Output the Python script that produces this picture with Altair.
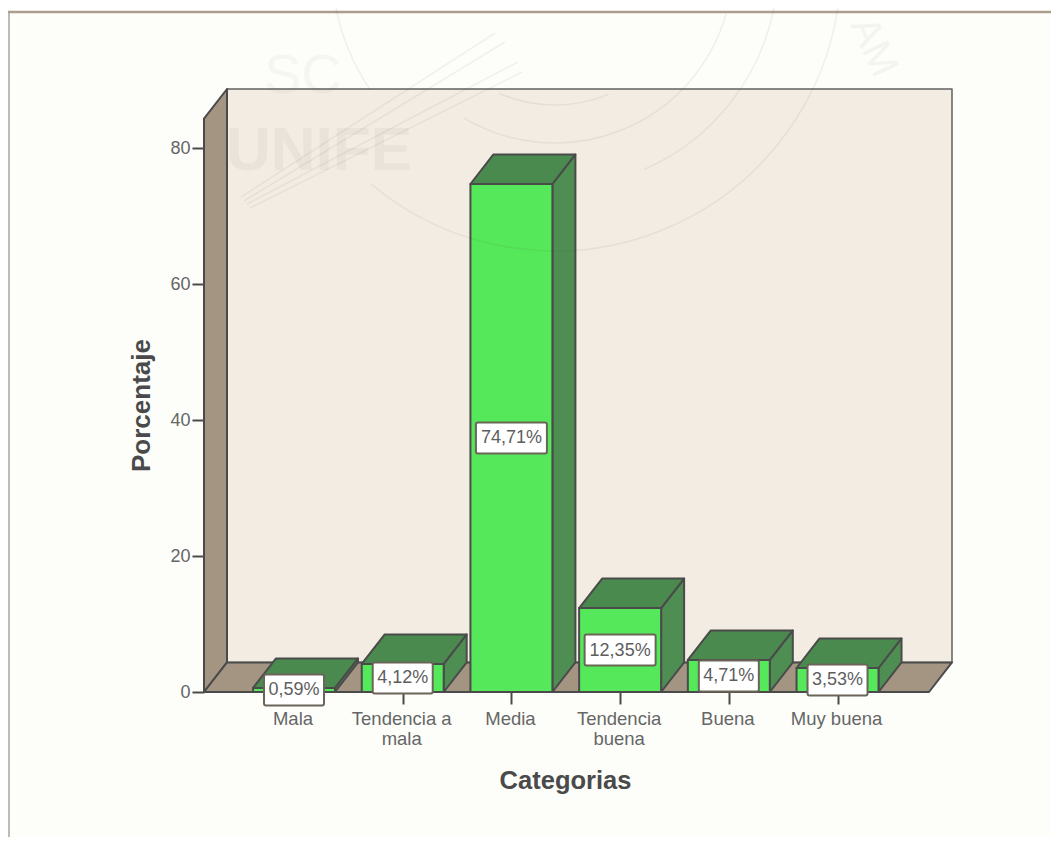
import json
import altair as alt
import pandas as pd

categories = ["Mala", "Tendencia a mala", "Media", "Tendencia buena", "Buena", "Muy buena"]
axis_lines = [["Mala"], ["Tendencia a", "mala"], ["Media"], ["Tendencia", "buena"], ["Buena"], ["Muy buena"]]
percentages = [0.59, 4.12, 74.71, 12.35, 4.71, 3.53]
labels = ["0,59%", "4,12%", "74,71%", "12,35%", "4,71%", "3,53%"]

# chart frame (category units / percentage units)
X_MIN, X_MAX = -0.828, 6.053
Y_MAX = 88.68
DX, DY = 0.2116, 4.34
HALF = 0.377

LINE = "#4A4A4A"
FONT = "Liberation Sans"


def para(pid, xl, xr, yv):
    """Horizontal parallelogram (top or floor) seen in oblique projection."""
    return [
        dict(id=pid, x=xl, y=yv, y2=yv),
        dict(id=pid, x=xl + DX, y=yv, y2=yv + DY),
        dict(id=pid, x=xr, y=yv, y2=yv + DY),
        dict(id=pid, x=xr + DX, y=yv + DY, y2=yv + DY),
    ]


wall = pd.DataFrame([
    dict(id="w", x=X_MIN + DX, y=DY, y2=Y_MAX),
    dict(id="w", x=X_MAX, y=DY, y2=Y_MAX),
])
side_wall = pd.DataFrame([
    dict(id="s", x=X_MIN, y=0, y2=Y_MAX - DY),
    dict(id="s", x=X_MIN + DX, y=DY, y2=Y_MAX),
])
floor = pd.DataFrame(para("f", X_MIN, X_MAX - DX, 0))

sides, tops, fronts, boxes = [], [], [], []
for i, p in enumerate(percentages):
    xl, xr = i - HALF, i + HALF
    sides += [dict(id=i, x=xr, y=0, y2=p), dict(id=i, x=xr + DX, y=DY, y2=p + DY)]
    tops += para(i, xl, xr, p)
    fronts += [dict(id=i, x=xl, y=0, y2=p), dict(id=i, x=xr, y=0, y2=p)]
    half_w = (35.5 if len(labels[i]) > 5 else 30) / 108.7
    boxes.append(dict(x=i - half_w, x2=i + half_w, xc=i, y=p / 2 - 2.28, y2=p / 2 + 2.28, yc=p / 2, t=labels[i]))

sides, tops, fronts, boxes = map(pd.DataFrame, (sides, tops, fronts, boxes))

x_scale = alt.Scale(domain=[X_MIN, X_MAX], nice=False, zero=False)
y_scale = alt.Scale(domain=[0, Y_MAX], nice=False, zero=False)

x_axis = alt.Axis(
    values=list(range(6)),
    labelExpr=f"{json.dumps(axis_lines)}[datum.value]",
    grid=False, domain=False, tickSize=12, tickWidth=2, tickColor=LINE,
    labelFont=FONT, labelFontSize=18.5, labelColor="#666666", labelPadding=5,
    labelLineHeight=20, labelOverlap=False, labelBound=False, labelFlush=False,
    labelOffset=-1.5,
    title="Categorias", titleFont=FONT, titleFontSize=25.5, titleFontWeight="bold",
    titleColor="#4A4A4A", titleX=361, titleY=88, titleBaseline="middle", titleAnchor="middle",
)
y_axis = alt.Axis(
    values=[0, 20, 40, 60, 80],
    grid=False, domain=False, tickSize=12, tickWidth=2, tickColor=LINE,
    labelFont=FONT, labelFontSize=18, labelColor="#666666", labelPadding=2,
    title="Porcentaje", titleFont=FONT, titleFontSize=26, titleFontWeight="bold",
    titleColor="#4A4A4A", titleX=-63, titleY=316, titleBaseline="middle", titleAnchor="middle",
)
X = alt.X("x:Q", scale=x_scale, axis=x_axis)
Y = alt.Y("y:Q", scale=y_scale, axis=y_axis)


def faces(df, fill, width=2.0, color=LINE):
    return alt.Chart(df).mark_area(
        fill=fill, stroke=color, strokeWidth=width, strokeJoin="round", opacity=1
    ).encode(x=X, y=Y, y2=alt.Y2("y2:Q"), detail="id:N")


box_layer = alt.Chart(boxes).mark_rect(
    fill="#FFFFFF", stroke="#6B6458", strokeWidth=2, cornerRadius=2
).encode(x=X, x2=alt.X2("x2:Q"), y=Y, y2=alt.Y2("y2:Q"))
text_layer = alt.Chart(boxes).mark_text(
    font=FONT, fontSize=18, color="#5E5E5E", align="center", baseline="middle", dy=0.5
).encode(x=alt.X("xc:Q", scale=x_scale, axis=x_axis), y=alt.Y("yc:Q", scale=y_scale, axis=y_axis), text="t:N")

one = pd.DataFrame({"k": [0]})


def frame_rule(color, width, **kw):
    return alt.Chart(one).mark_rule(color=color, strokeWidth=width).encode(
        **{k: alt.value(v) for k, v in kw.items()}
    )


frame = [
    frame_rule("#FFFFFF", 4, x=-196, x2=847, y=-79),
    frame_rule("#AC9D8D", 2.5, x=-196, x2=847, y=-77),
    frame_rule("#A4A4A0", 1.5, x=-195, y=-76, y2=748),
]

WM = "#5A4A30"


def wm_arc(r, t0, t1):
    return alt.Chart(one).mark_arc(
        radius=r, radius2=r, theta=t0, theta2=t1, stroke=WM, strokeWidth=1.5,
        strokeOpacity=0.08, fillOpacity=0,
    ).encode(x=alt.value(351), y=alt.value(-124))


def wm_line(x0, y0, x1, y1):
    return alt.Chart(one).mark_rule(color=WM, strokeWidth=1.5, opacity=0.07).encode(
        x=alt.value(x0 - 204), y=alt.value(y0 - 89), x2=alt.value(x1 - 204), y2=alt.value(y1 - 89)
    )


def wm_text(t, px, py, size, weight, opacity=0.05, angle=0):
    return alt.Chart(one).mark_text(
        text=t, font=FONT, fontSize=size, fontWeight=weight, angle=angle, color=WM,
        opacity=opacity, align="left", baseline="alphabetic",
    ).encode(x=alt.value(px - 204), y=alt.value(py - 89))


watermark = [
    wm_arc(286, 1.65, 3.84),
    wm_arc(223, 1.73, 2.73),
    wm_arc(223, 4.12, 4.7),
    wm_arc(178, 1.85, 3.68),
    wm_arc(140, 2.75, 3.55),
    wm_line(241, 197, 495, 33),
    wm_line(244, 201, 505, 42),
    wm_line(247, 204, 518, 62),
    wm_line(250, 208, 522, 72),
    wm_text("UNIFE", 226, 170, 62, "bold"),
    wm_text("SC", 264, 93, 56, "normal", 0.04),
    wm_text("AM", 850, 25, 40, "normal", 0.05, 65),
]

chart = alt.layer(
    faces(wall, "#F3ECE3", 1.5, "#606060"),
    faces(side_wall, "#A39582"),
    faces(floor, "#A39582"),
    faces(sides, "#4F8E52"),
    faces(tops, "#4A8A4E"),
    faces(fronts, "#55E85B"),
    box_layer,
    text_layer,
    *frame,
    *watermark,
).properties(
    width=748,
    height=603,
    background="#FDFEFA",
    padding={"left": 196, "top": 81, "right": 99, "bottom": 145},
    autosize=alt.AutoSizeParams(type="none"),
).configure_view(stroke=None)

chart.save("out.html", embed_options={"renderer": "svg", "actions": False})
